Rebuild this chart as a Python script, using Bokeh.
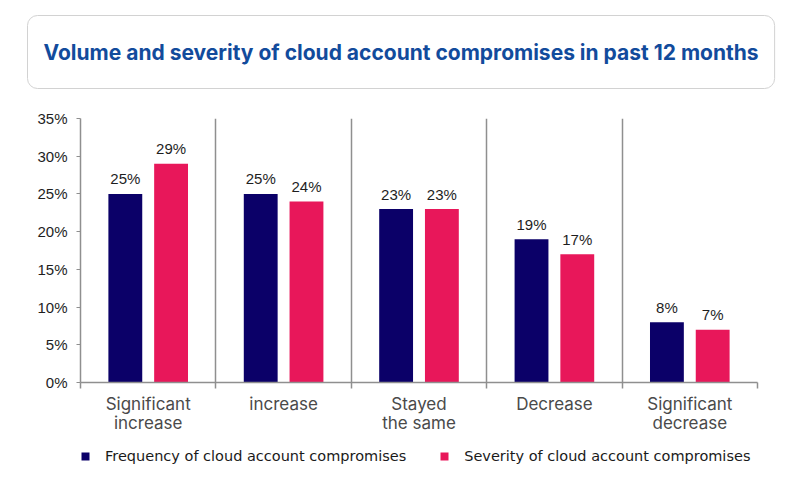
from bokeh.plotting import figure
from bokeh.layouts import column
from bokeh.models import (ColumnDataSource, FixedTicker, PrintfTickFormatter, Range1d,
                          Legend, LegendItem, Title)
from bokeh.core.properties import value
from bokeh.embed import file_html
from bokeh.resources import INLINE

# ---- data ----
categories = ["Significant\nincrease", "increase", "Stayed\nthe same", "Decrease", "Significant\ndecrease"]
frequency = [25, 25, 23, 19, 8]
severity = [29, 24, 23, 17, 7]
series_names = ["Frequency of cloud account compromises", "Severity of cloud account compromises"]
title_text = "Volume and severity of cloud account compromises in past 12 months"
y_ticks = [0, 5, 10, 15, 20, 25, 30, 35]

NAVY = "#0b0068"
PINK = "#e8175a"
GRID = "#8f8f8f"
W = 800
FL, FR = 80, 757

# ---------------- title strip ----------------
H1 = 100
title = Title(text=title_text, align="left", offset=-53, standoff=10,
              text_font="Inter", text_font_style="bold", text_font_size="21px",
              text_color="#124b9c", background_fill_color="white",
              border_line_color="#d2d2d2", border_line_width=1,
              border_radius=10, padding=(16, 24))
tfig = figure(width=W, height=H1, output_backend="svg", toolbar_location=None,
              x_range=Range1d(0, 1), y_range=Range1d(0, 1),
              min_border_left=FL, min_border_right=W - FR,
              min_border_top=93, min_border_bottom=0,
              x_axis_type=None, y_axis_type=None, title=title)
tfig.outline_line_color = None
tfig.grid.visible = False

# ---------------- chart ----------------
H2 = 340
FT, FB = 18, 282   # frame top/bottom inside chart canvas
n = len(categories)
centers = [i + 0.5 for i in range(n)]
off = 0.169
src = ColumnDataSource(dict(
    xf=[c - off for c in centers], xs=[c + off for c in centers],
    f=frequency, s=severity,
    fl=[f"{v}%" for v in frequency], sl=[f"{v}%" for v in severity],
))

p = figure(width=W, height=H2, output_backend="svg", toolbar_location=None,
           x_range=Range1d(0, n), y_range=Range1d(0, 35),
           min_border_left=FL, min_border_right=W - FR,
           min_border_top=FT, min_border_bottom=H2 - FB)
p.outline_line_color = None
p.ygrid.visible = False
p.xgrid.ticker = FixedTicker(ticks=list(range(1, n + 1)))
p.xgrid.grid_line_color = GRID
p.xgrid.grid_line_width = 1.5

ya = p.yaxis[0]
ya.ticker = FixedTicker(ticks=y_ticks)
ya.formatter = PrintfTickFormatter(format="%d%%")
ya.axis_line_color = GRID
ya.axis_line_width = 1.5
ya.major_tick_line_color = GRID
ya.major_tick_in = 0
ya.major_tick_out = 4
ya.minor_tick_line_color = None
ya.major_label_standoff = 9
ya.major_label_text_font = "Liberation Sans"
ya.major_label_text_font_size = "15px"
ya.major_label_text_color = "#1e1e1e"

xa = p.xaxis[0]
xa.ticker = FixedTicker(ticks=centers, minor_ticks=list(range(0, n + 1)))
xa.major_label_overrides = {c: lab for c, lab in zip(centers, categories)}
xa.axis_line_color = GRID
xa.axis_line_width = 1.5
xa.major_tick_line_color = None
xa.major_tick_out = 6
xa.major_tick_in = 0
xa.minor_tick_line_color = GRID
xa.minor_tick_line_width = 1.5
xa.minor_tick_out = 6
xa.minor_tick_in = 0
xa.major_label_standoff = 5
xa.major_label_text_font = "Inter"
xa.major_label_text_font_size = "17px"
xa.major_label_text_color = "#4a4a4a"
xa.major_label_text_line_height = 0.97

r1 = p.vbar(x="xf", top="f", width=0.25, source=src, fill_color=NAVY, line_color=None)
r2 = p.vbar(x="xs", top="s", width=0.25, source=src, fill_color=PINK, line_color=None)

for xcol, ycol, tcol in (("xf", "f", "fl"), ("xs", "s", "sl")):
    p.text(x=xcol, y=ycol, text=tcol, source=src, text_align="center",
           text_baseline="alphabetic", y_offset=-15,
           text_font=value("Liberation Sans"), text_font_size="15px",
           text_color="#1e1e1e")

# ---------------- legend strip ----------------
H3 = 60
lfig = figure(width=W, height=H3, output_backend="svg", toolbar_location=None,
              x_range=Range1d(0, 1), y_range=Range1d(0, 1),
              min_border_left=FL, min_border_right=W - FR,
              min_border_top=0, min_border_bottom=0,
              x_axis_type=None, y_axis_type=None)
lfig.outline_line_color = None
lfig.grid.visible = False
# legend swatches only (zero-height bars, nothing visible in the strip)
d1 = lfig.vbar(x=[0.5], top=[0], bottom=[0], width=0.1, fill_color=NAVY, line_color=None)
d2 = lfig.vbar(x=[0.5], top=[0], bottom=[0], width=0.1, fill_color=PINK, line_color=None)
legend = Legend(items=[LegendItem(label=series_names[0], renderers=[d1]),
                       LegendItem(label=series_names[1], renderers=[d2])],
                orientation="horizontal", location=(0, 36),
                glyph_width=10, glyph_height=10, label_standoff=15, spacing=33,
                padding=0, margin=0, border_line_color=None, background_fill_alpha=0,
                label_text_font="DejaVu Sans", label_text_font_size="14.5px",
                label_text_color="#1a1a1a")
lfig.add_layout(legend)

layout = column(tfig, p, lfig, spacing=0)
open("out.html", "w").write(file_html(layout, INLINE))
